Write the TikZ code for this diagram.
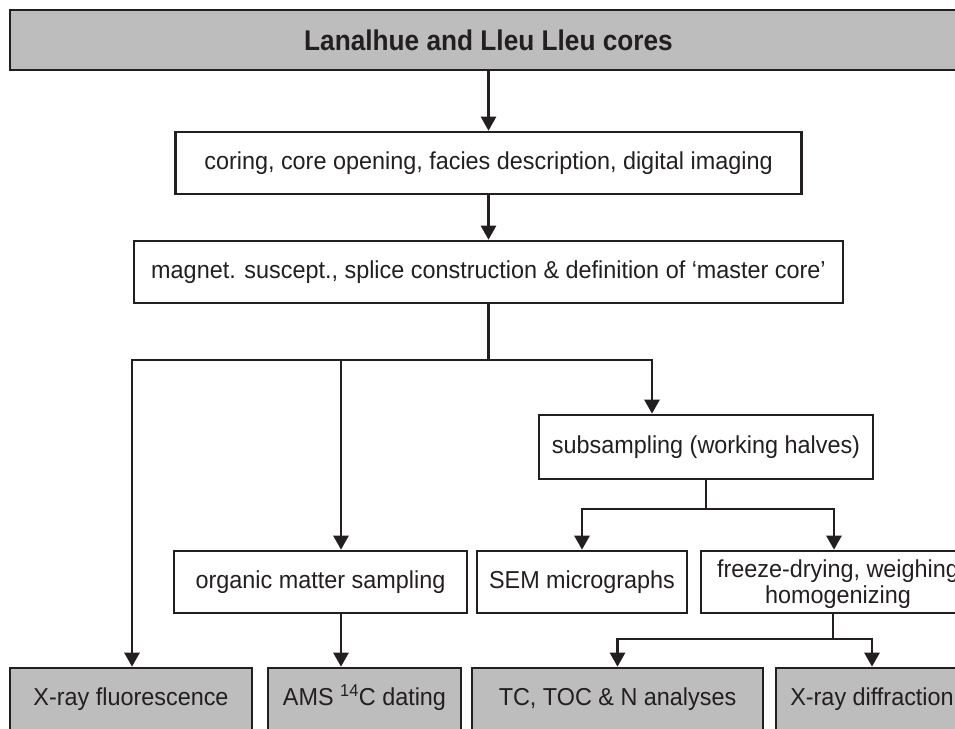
\documentclass[tikz,border=0pt]{standalone}
\usepackage{fontspec}
\setmainfont{Liberation Sans}[FakeStretch=0.955]
\newfontfamily\titlefont{Liberation Sans}[FakeStretch=0.92]
\usetikzlibrary{arrows.meta}
\definecolor{boxgray}{RGB}{189,189,189}
\definecolor{ink}{RGB}{35,31,32}

\begin{document}
\begin{tikzpicture}[x=1pt,y=-1pt,
  box/.style={draw=ink, line width=2.6pt, rectangle, inner sep=0pt, text=ink,
    font=\fontsize{24.5}{26}\selectfont, text height=17.5pt, text depth=5pt},
  graybox/.style={box, fill=boxgray},
  conn/.style={draw=ink, line width=2.6pt},
  arr/.style={conn, -{Triangle[width=15pt,length=14pt]}}]

\useasboundingbox (0,0) rectangle (955,728);
\clip (0,0) rectangle (955,728);

% top level
\node[graybox, minimum width=957pt, minimum height=60pt,
  font=\titlefont\bfseries\fontsize{28.5}{30}\selectfont, text height=21pt, text depth=0pt]
  (cores) at (488.5,40) {Lanalhue and Lleu Lleu cores};
\node[box, minimum width=626pt, minimum height=62pt] (coring) at (488.5,163)
  {coring, core opening, facies description, digital imaging};
\node[box, minimum width=709pt, minimum height=62pt] (magnet) at (488.5,272)
  {magnet. suscept., splice construction \& definition of ‘master core’};

% middle level
\node[box, minimum width=334pt, minimum height=64pt] (subs) at (706,447)
  {subsampling (working halves)};
\node[box, minimum width=293pt, minimum height=62pt] (organic) at (320.5,582)
  {organic matter sampling};
\node[box, minimum width=210pt, minimum height=62pt] (sem) at (582,582)
  {SEM micrographs};
\node[box, minimum width=274pt, minimum height=62pt, align=center,
  text height=43.5pt, text depth=0pt]
  (freeze) at (838,582) {freeze-drying, weighing\\homogenizing};

% analyses
\node[graybox, minimum width=242pt, minimum height=62pt] (xrf) at (131,699)
  {X-ray fluorescence};
\node[graybox, minimum width=193pt, minimum height=62pt] (ams) at (364.5,699)
  {AMS \textsuperscript{14}C dating};
\node[graybox, minimum width=291pt, minimum height=62pt] (tc) at (617.5,699)
  {TC, TOC \& N analyses};
\node[graybox, minimum width=192pt, minimum height=62pt] (xrd) at (872,699)
  {X-ray diffraction};

% branch lines
\coordinate (splitA) at (0,360);
\coordinate (splitB) at (0,509);
\coordinate (splitC) at (0,639);
\coordinate (kXrf) at (132,0);
\coordinate (kOrg) at (341,0);
\coordinate (kSub) at (652,0);
\coordinate (kFrz) at (834,0);
\coordinate (kFrzOut) at (833,0);

\draw[arr] (cores.south) -- (coring.north);
\draw[arr] (coring.south) -- (magnet.north);

\draw[arr] (magnet.south) |- (kXrf |- splitA) -- (xrf.north -| kXrf);
\draw[arr] (magnet.south) |- (kSub |- splitA) -- (subs.north -| kSub);
\draw[arr] (kOrg |- splitA) -- (organic.north -| kOrg);

\draw[arr] (subs.south) |- (sem.north |- splitB) -- (sem.north);
\draw[arr] (subs.south) |- (kFrz |- splitB) -- (freeze.north -| kFrz);

\draw[arr] (organic.south -| kOrg) -- (ams.north -| kOrg);

\draw[arr] (freeze.south -| kFrzOut) |- (tc.north |- splitC) -- (tc.north);
\draw[arr] (freeze.south -| kFrzOut) |- (xrd.north |- splitC) -- (xrd.north);
\end{tikzpicture}
\end{document}
